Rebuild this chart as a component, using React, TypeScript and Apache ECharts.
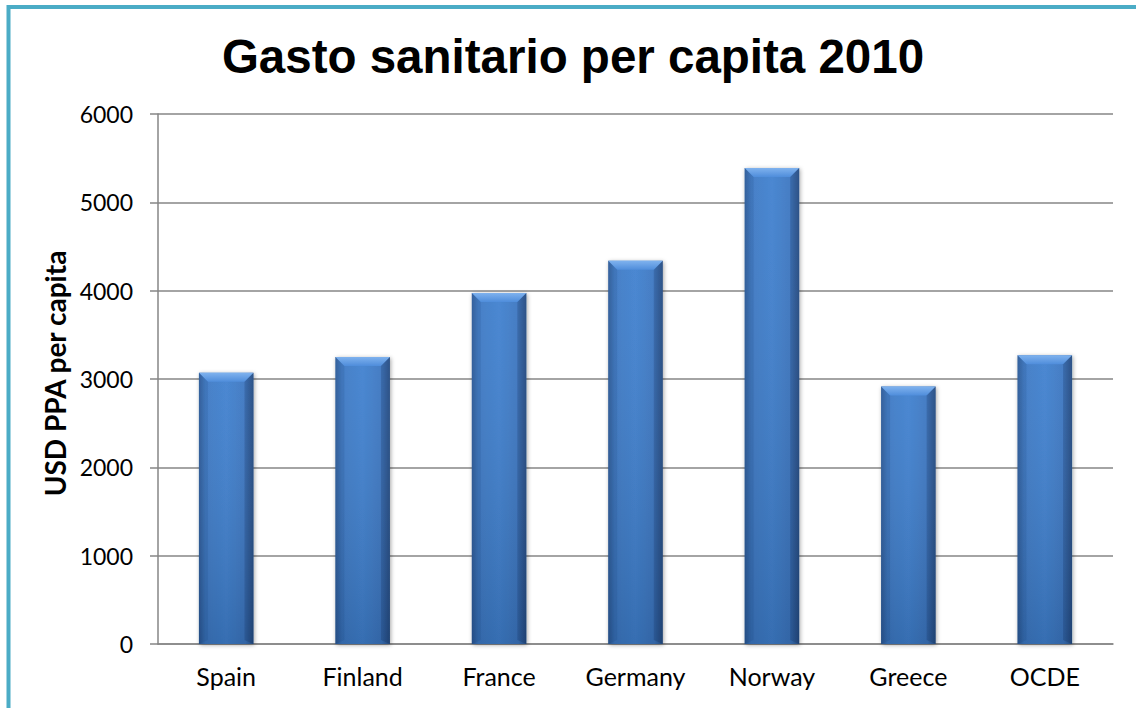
import React, { useEffect, useRef } from "react";
import * as echarts from "echarts";

const categories = ["Spain", "Finland", "France", "Germany", "Norway", "Greece", "OCDE"];
const spending = [3070, 3250, 3974, 4338, 5388, 2914, 3268];
const yTicks = { min: 0, max: 6000, interval: 1000 };
const titleText = "Gasto sanitario per capita 2010";
const yAxisName = "USD PPA per capita";

export default function App() {
  const ref = useRef<HTMLDivElement>(null);
  useEffect(() => {
    document.body.style.margin = "0";
    const chart = echarts.init(ref.current!, null, { renderer: "svg" });
    const bodyGradient = new echarts.graphic.LinearGradient(0, 0, 1, 0, [
      { offset: 0, color: "#2d5e9e" },
      { offset: 0.12, color: "#3b78c4" },
      { offset: 0.5, color: "#3f80cf" },
      { offset: 0.85, color: "#3a75c0" },
      { offset: 1, color: "#2a5691" },
    ]);
    chart.setOption({
      animation: false,
      backgroundColor: "#ffffff",
      title: {
        text: titleText,
        left: 568,
        top: 27,
        textAlign: "center",
        textStyle: {
          fontFamily: "Liberation Sans, Arial, sans-serif",
          fontSize: 47.5,
          fontWeight: "bold",
          color: "#000",
        },
      },
      graphic: [
        {
          type: "rect",
          shape: { x: 8.5, y: 7, width: 1300, height: 900 },
          style: { fill: "none", stroke: "#4BACC6", lineWidth: 4 },
          silent: true,
        },
      ],
      grid: { left: 158, right: 23, top: 114, bottom: 64, containLabel: false },
      xAxis: {
        type: "category",
        data: categories,
        axisLine: { lineStyle: { color: "#868686", width: 1.5 } },
        axisTick: { show: false },
        axisLabel: {
          color: "#000",
          fontFamily: "Lato, sans-serif",
          fontSize: 25,
          margin: 19,
        },
      },
      yAxis: {
        type: "value",
        min: yTicks.min,
        max: yTicks.max,
        interval: yTicks.interval,
        name: yAxisName,
        nameLocation: "middle",
        nameGap: 80,
        nameTextStyle: {
          fontFamily: "Lato, sans-serif",
          fontSize: 28,
          fontWeight: "bold",
          color: "#000",
          padding: [0, 0, 0, 11],
        },
        axisLine: { show: true, lineStyle: { color: "#868686", width: 1.5 } },
        axisTick: { show: true, length: 8, lineStyle: { color: "#868686", width: 1.5 } },
        splitLine: { lineStyle: { color: "#868686", width: 1.5 } },
        axisLabel: {
          color: "#000",
          fontFamily: "Lato, sans-serif",
          fontSize: 23,
          margin: 25,
          formatter: (v: number) => String(v),
        },
      },
      series: [
        {
          type: "bar",
          data: spending,
          barWidth: "40%",
          itemStyle: {
            color: bodyGradient,
            shadowBlur: 4,
            shadowColor: "rgba(0,0,0,0.35)",
            shadowOffsetX: 1,
            shadowOffsetY: 1,
          },
          z: 2,
        },
        {
          type: "custom",
          data: spending.map((v, i) => [i, v]),
          z: 3,
          silent: true,
          renderItem: (params: any, api: any) => {
            const idx = api.value(0);
            const val = api.value(1);
            const top = api.coord([idx, val]);
            const base = api.coord([idx, 0]);
            const bw = api.size([1, 0])[0] * 0.4;
            const x0 = top[0] - bw / 2;
            const x1 = top[0] + bw / 2;
            const y0 = top[1];
            const y1 = base[1];
            const b = 9;
            return {
              type: "group",
              children: [
                {
                  type: "rect",
                  shape: { x: x0, y: y0, width: bw, height: y1 - y0 },
                  style: {
                    fill: new echarts.graphic.LinearGradient(0, 0, 0, 1, [
                      { offset: 0, color: "rgba(255,255,255,0.06)" },
                      { offset: 1, color: "rgba(0,0,0,0.14)" },
                    ]),
                  },
                },
                {
                  type: "polygon",
                  shape: { points: [[x0, y0], [x1, y0], [x1 - b, y0 + b], [x0 + b, y0 + b]] },
                  style: {
                    fill: new echarts.graphic.LinearGradient(0, 0, 0, 1, [
                      { offset: 0, color: "#7fb2ee" },
                      { offset: 1, color: "#4f8ddb" },
                    ]),
                  },
                },
                {
                  type: "polygon",
                  shape: { points: [[x0, y0], [x0 + b, y0 + b], [x0 + b, y1 - 4], [x0, y1]] },
                  style: { fill: "rgba(20,50,100,0.12)" },
                },
                {
                  type: "polygon",
                  shape: { points: [[x1, y0], [x1 - b, y0 + b], [x1 - b, y1 - 4], [x1, y1]] },
                  style: { fill: "rgba(10,30,70,0.2)" },
                },
              ],
            };
          },
        },
      ],
    });
    return () => chart.dispose();
  }, []);
  return <div ref={ref} style={{ width: 1136, height: 708 }} />;
}
